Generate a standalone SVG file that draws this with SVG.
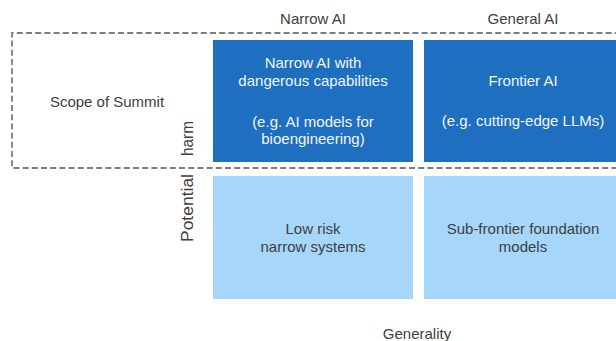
<svg xmlns="http://www.w3.org/2000/svg" width="616" height="341" viewBox="0 0 616 341">
  <style>
    .lbl { font-family: "Liberation Sans", Arial, sans-serif; font-size: 15px; fill: #404040; text-anchor: middle; }
    .inv { font-family: "Liberation Sans", Arial, sans-serif; font-size: 15px; fill: #f2f6fb; text-anchor: middle; }
    .high { fill: #1f6fc1; }
    .low { fill: #a6d6fa; }
    .scope { fill: none; stroke: #7c7c7c; stroke-width: 1.8; stroke-dasharray: 6 3.2; }
  </style>
  <rect width="616" height="341" fill="#ffffff"/>

  <!-- axis headings -->
  <g id="axes">
    <text class="lbl" x="313" y="23.5">Narrow AI</text>
    <text class="lbl" x="523" y="23.5">General AI</text>
    <text class="lbl" x="417" y="339">Generality</text>
    <text class="lbl" transform="rotate(-90)" y="193" style="text-anchor:start;font-size:16px"><tspan x="-242" textLength="68" lengthAdjust="spacingAndGlyphs">Potential</tspan><tspan x="-156" textLength="35" lengthAdjust="spacingAndGlyphs">harm</tspan></text>
  </g>

  <!-- quadrants -->
  <g id="narrow-dangerous">
    <rect class="high" x="213" y="40" width="200" height="122"/>
    <text class="inv" x="313" y="67.5">Narrow AI with</text>
    <text class="inv" x="313" y="85.5">dangerous capabilities</text>
    <text class="inv" x="313" y="126.5">(e.g. AI models for</text>
    <text class="inv" x="313" y="143.5">bioengineering)</text>
  </g>
  <g id="frontier">
    <rect class="high" x="424" y="40" width="200" height="122"/>
    <text class="inv" x="523" y="86">Frontier AI</text>
    <text class="inv" x="523" y="126">(e.g. cutting-edge LLMs)</text>
  </g>
  <g id="narrow-low">
    <rect class="low" x="213" y="176" width="200" height="123"/>
    <text class="lbl" x="313" y="234">Low risk</text>
    <text class="lbl" x="313" y="252">narrow systems</text>
  </g>
  <g id="sub-frontier">
    <rect class="low" x="424" y="176" width="200" height="123"/>
    <text class="lbl" x="523" y="234">Sub-frontier foundation</text>
    <text class="lbl" x="523" y="252">models</text>
  </g>

  <!-- summit scope outline -->
  <g id="scope">
    <path class="scope" d="M630 33 H12 V168 H630"/>
    <text class="lbl" x="107" y="106.5">Scope of Summit</text>
  </g>
</svg>
